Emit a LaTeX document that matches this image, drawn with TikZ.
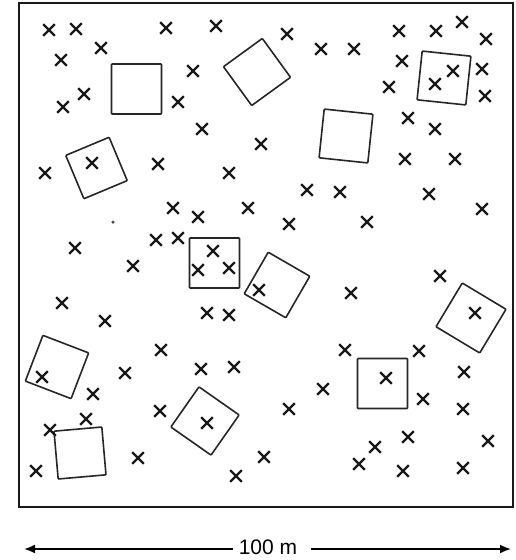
\documentclass[tikz,border=0pt]{standalone}
\usepackage{fontspec}
\setmainfont{Liberation Sans}
\usetikzlibrary{shapes.misc,arrows.meta}
\tikzset{
  plotbox/.style={draw=black!85, line width=1.6pt, minimum size=#1, inner sep=0pt, rounded corners=0.8pt},
  tree/.style={cross out, draw=black!90, line width=2.2pt, minimum size=9.5pt, inner sep=0pt},
  frame/.style={draw=black!90, line width=2.4pt},
  scalearrow/.style={line width=1.8pt, -{Latex[length=11pt,width=9pt]}}
}
\begin{document}
\begin{tikzpicture}[x=1pt,y=-1pt]
\useasboundingbox (0,0) rectangle (516,560);
\node[frame, minimum width=494pt, minimum height=504pt, inner sep=0pt] (fr) at (266,255) {};
% sample plots
\node[plotbox=50pt] (s1) at (136.5,89) {};
\node[plotbox=47pt, rotate=22.7] (s2) at (96.5,168) {};
\node[plotbox=48pt, rotate=36] (s3) at (257,72) {};
\node[plotbox=49pt, rotate=-6] (s4) at (444,78) {};
\node[plotbox=49pt, rotate=-6] (s5) at (346,136) {};
\node[plotbox=50pt] (s6) at (214.5,263) {};
\node[plotbox=48pt, rotate=-30] (s7) at (277,285) {};
\node[plotbox=51pt, rotate=-31] (s8) at (471,318) {};
\node[plotbox=49pt, rotate=-21] (s9) at (57,367) {};
\node[plotbox=48pt, rotate=5] (s10) at (80,453) {};
\node[plotbox=49pt, rotate=-35] (s11) at (205,421) {};
\node[plotbox=50pt] (s12) at (382.5,383.5) {};
% trees
\foreach \x/\y [count=\i] in {
 49/30,76/29,166/28,216/26,101/48,61/60,193/71,84/94,63/107,178/102,202/129,92/163,158/164,45/173,229/173,261/144,
 287/34,321/49,354/49,399/31,436/31,462/22,486/39,402/61,389/87,453/71,435/84,482/69,485/96,408/118,435/129,405/159,455/159,
 173/208,198/217,248/208,75/248,156/240,178/238,133/266,213/251,198/270,229/268,62/303,105/321,207/313,229/315,161/350,
 307/190,340/192,429/194,482/209,289/224,367/222,440/276,351/293,475/313,259/290,
 125/373,201/369,234/367,42/377,93/394,160/411,86/419,50/430,207/423,138/458,36/471,236/476,
 345/350,419/351,464/372,386/378,323/389,289/409,423/399,463/409,408/437,375/447,488/441,359/464,403/471,463/468,264/457}
  \node[tree] (t\i) at (\x,\y) {};
\node[circle, fill=black!70, inner sep=0pt, minimum size=3.5pt] (dot) at (113,222) {};
% scale bar
\node[inner sep=0pt, font=\fontsize{21}{24}\selectfont] (lab) at (268,547) {100 m};
\coordinate (L) at (24,549);
\coordinate (R) at (511,549);
\draw[scalearrow] ([xshift=-6pt,yshift=-2pt]lab.west) -- (L);
\draw[scalearrow] ([xshift=14pt,yshift=-2pt]lab.east) -- (R);
\end{tikzpicture}
\end{document}
